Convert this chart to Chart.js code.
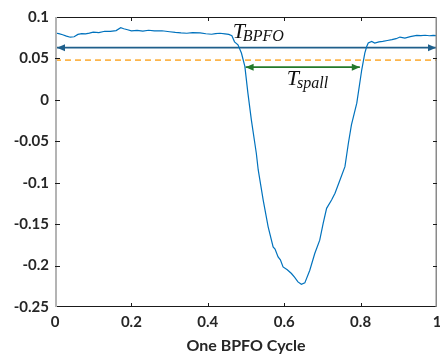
<!DOCTYPE html>
<html><head><meta charset="utf-8">
<script src="https://cdn.jsdelivr.net/npm/chart.js@4/dist/chart.umd.min.js"></script>
<style>html,body{margin:0;padding:0;background:#fff}#wrap{width:440px;height:354px}</style>
</head><body><div id="wrap"><canvas id="c" width="440" height="354"></canvas></div>
<script>
// ---- data ----
const cycleX = [0,0.01,0.02,0.03,0.04,0.05,0.06,0.07,0.08,0.09,0.10,0.115,0.13,0.145,0.16,0.172,0.18,0.19,0.2,0.215,0.23,0.245,0.26,0.28,0.3,0.315,0.33,0.345,0.36,0.38,0.395,0.41,0.42,0.432,0.445,0.455,0.463,0.47,0.479,0.488,0.497,0.505,0.514,0.527,0.532,0.545,0.558,0.571,0.576,0.584,0.59,0.597,0.608,0.619,0.627,0.636,0.645,0.654,0.667,0.68,0.693,0.702,0.711,0.724,0.733,0.746,0.759,0.768,0.776,0.79,0.803,0.811,0.816,0.82,0.829,0.837,0.848,0.858,0.87,0.882,0.893,0.903,0.916,0.93,0.947,0.958,0.969,0.98,0.99,1.0];
const signalY = [0.0807,0.0800,0.0786,0.0770,0.0756,0.0762,0.0790,0.0800,0.0796,0.0806,0.0818,0.0812,0.0828,0.0826,0.0836,0.0870,0.0858,0.0846,0.0832,0.0838,0.0830,0.0840,0.0832,0.0834,0.0822,0.0814,0.0808,0.0804,0.0812,0.0808,0.0798,0.0792,0.0800,0.0804,0.0796,0.0790,0.0774,0.0700,0.0665,0.0565,0.0403,0.0081,-0.0242,-0.0644,-0.0846,-0.1209,-0.1532,-0.1774,-0.1800,-0.1895,-0.1930,-0.2016,-0.2050,-0.2096,-0.2140,-0.2197,-0.2225,-0.2209,-0.2056,-0.1854,-0.1693,-0.1491,-0.1309,-0.1209,-0.1128,-0.0967,-0.0806,-0.0524,-0.0302,-0.0040,0.0363,0.0565,0.0644,0.0686,0.0705,0.0686,0.0700,0.0705,0.0716,0.0726,0.0738,0.0758,0.0746,0.0764,0.0778,0.0776,0.0780,0.0774,0.0778,0.0774];
const xTicks = [0,0.2,0.4,0.6,0.8,1];
const xTickLabels = ['0','0.2','0.4','0.6','0.8','1'];
const yTicks = [-0.25,-0.2,-0.15,-0.1,-0.05,0,0.05,0.1];
const yTickLabels = ['-0.25','-0.2','-0.15','-0.1','-0.05','0','0.05','0.1'];
const thresholdX = [0,1];
const thresholdY = [0.048,0.048];
const bpfoX = [0,1];
const bpfoY = [0.063,0.063];
const spallX = [0.499,0.798];
const spallY = [0.0395,0.0395];
const xTitle = 'One BPFO Cycle';
const bpfoLabel = {x:0.465, y:0.075, main:'T', sub:'BPFO'};
const spallLabel = {x:0.607, y:0.018, main:'T', sub:'spall'};

const COL_CURVE = '#0072BD', COL_THR = '#FDB54A', COL_BPFO = '#1F5F8B', COL_SPALL = '#23792A', TXT = '#262626';
const pts = (xs, ys) => xs.map((x,i)=>({x, y: ys[i]}));

const decorPlugin = {
  id: 'decor',
  afterDatasetsDraw(chart) {
    const ctx = chart.ctx, xs = chart.scales.x, ys = chart.scales.y, a = chart.chartArea;
    ctx.save();
    const head = (px, py, dir, col) => {
      ctx.fillStyle = col; ctx.beginPath();
      ctx.moveTo(px, py); ctx.lineTo(px - dir*8, py - 3.5); ctx.lineTo(px - dir*8, py + 3.5); ctx.closePath(); ctx.fill();
    };
    head(xs.getPixelForValue(bpfoX[0]) + 2, ys.getPixelForValue(bpfoY[0]), -1, COL_BPFO);
    head(xs.getPixelForValue(bpfoX[1]) - 1, ys.getPixelForValue(bpfoY[1]), 1, COL_BPFO);
    head(xs.getPixelForValue(spallX[0]), ys.getPixelForValue(spallY[0]), -1, COL_SPALL);
    head(xs.getPixelForValue(spallX[1]), ys.getPixelForValue(spallY[1]), 1, COL_SPALL);
    const lab = (L) => {
      const px = xs.getPixelForValue(L.x), py = ys.getPixelForValue(L.y);
      ctx.fillStyle = '#111'; ctx.textBaseline = 'alphabetic'; ctx.textAlign = 'left';
      ctx.font = 'italic 22px "Liberation Serif"';
      ctx.fillText(L.main, px, py);
      const w = ctx.measureText(L.main).width;
      ctx.font = 'italic 16px "Liberation Serif"';
      ctx.fillText(L.sub, px + w - 2, py + 3);
    };
    lab(bpfoLabel); lab(spallLabel);
    ctx.lineWidth = 1; ctx.strokeStyle = '#1a1a1a';
    ctx.beginPath(); ctx.moveTo(a.left, a.top + 0.5); ctx.lineTo(a.right, a.top + 0.5);
    ctx.moveTo(a.left, a.bottom - 0.5); ctx.lineTo(a.right, a.bottom - 0.5); ctx.stroke();
    ctx.lineWidth = 2; ctx.strokeStyle = '#b4b4b4';
    ctx.beginPath(); ctx.moveTo(a.left + 1, a.top); ctx.lineTo(a.left + 1, a.bottom); ctx.stroke();
    ctx.lineWidth = 1.5; ctx.strokeStyle = '#8a8a8a';
    ctx.beginPath(); ctx.moveTo(a.right - 0.75, a.top); ctx.lineTo(a.right - 0.75, a.bottom); ctx.stroke();
    ctx.lineWidth = 1; ctx.strokeStyle = '#1a1a1a'; ctx.beginPath();
    xTicks.forEach(v => { const p = Math.round(xs.getPixelForValue(v)) + 0.5;
      if (v > 0 && v < 1) { ctx.moveTo(p, a.top); ctx.lineTo(p, a.top + 4); ctx.moveTo(p, a.bottom); ctx.lineTo(p, a.bottom - 4); } });
    yTicks.forEach(v => { const p = Math.round(ys.getPixelForValue(v)) + 0.5;
      if (v > -0.25 && v < 0.1) { ctx.moveTo(a.left, p); ctx.lineTo(a.left + 5, p); ctx.moveTo(a.right, p); ctx.lineTo(a.right - 4, p); } });
    ctx.stroke();
    ctx.restore();
  }
};

new Chart(document.getElementById('c'), {
  type: 'scatter',
  data: { datasets: [
    { data: pts(cycleX, signalY), showLine: true, borderColor: COL_CURVE, borderWidth: 1.2, pointRadius: 0, tension: 0 },
    { data: pts(thresholdX, thresholdY), showLine: true, borderColor: COL_THR, borderWidth: 1.6, borderDash: [6,4], pointRadius: 0 },
    { data: pts(bpfoX, bpfoY), showLine: true, borderColor: COL_BPFO, borderWidth: 1.6, pointRadius: 0 },
    { data: pts(spallX, spallY), showLine: true, borderColor: COL_SPALL, borderWidth: 1.6, pointRadius: 0 }
  ]},
  options: {
    responsive: false, animation: false, devicePixelRatio: 1,
    layout: { padding: { top: 17, right: 3, left: 0, bottom: 0 } },
    plugins: { legend: { display: false }, tooltip: { enabled: false } },
    scales: {
      x: { type: 'linear', min: 0, max: 1,
        afterBuildTicks: s => { s.ticks = xTicks.map(v => ({ value: v })); },
        afterFit: s => { s.height = 47; s.paddingLeft = 0; s.paddingRight = 0; },
        grid: { display: false, drawTicks: false }, border: { display: false },
        ticks: { padding: 6, color: TXT, font: { family: 'Lato', size: 15, weight: 'bold' }, maxRotation: 0,
          callback: v => xTickLabels[xTicks.indexOf(v)] },
        title: { display: true, text: xTitle, color: TXT, font: { family: 'Lato', size: 16, weight: 'bold', lineHeight: 1 }, padding: { top: 0, bottom: 0 } } },
      y: { type: 'linear', min: -0.25, max: 0.1,
        afterBuildTicks: s => { s.ticks = yTicks.map(v => ({ value: v })); },
        afterFit: s => { s.width = 55; s.paddingTop = 0; s.paddingBottom = 0; },
        grid: { display: false, drawTicks: false }, border: { display: false },
        ticks: { padding: 6, color: TXT, font: { family: 'Lato', size: 15, weight: 'bold' },
          callback: v => yTickLabels[yTicks.indexOf(v)] } }
    }
  },
  plugins: [decorPlugin]
});
</script></body></html>
